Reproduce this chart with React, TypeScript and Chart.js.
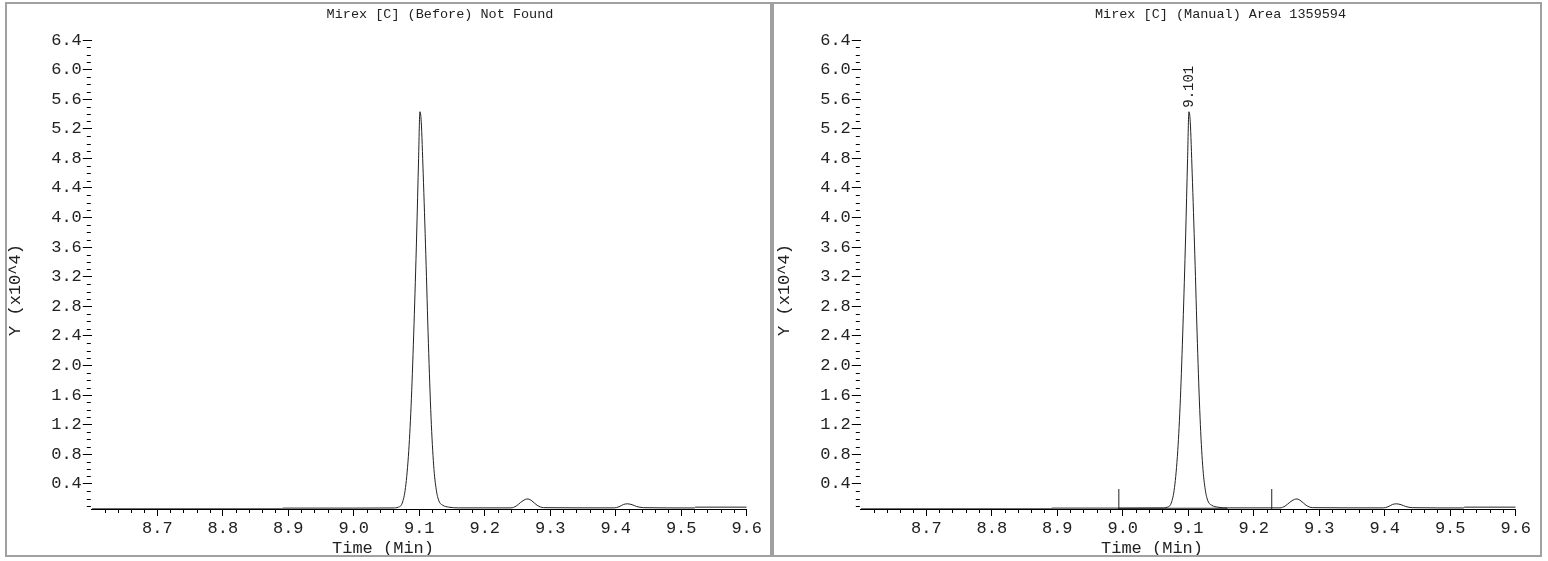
import React, { useEffect, useRef } from "react";
import { Chart, registerables } from "chart.js";

Chart.register(...registerables);

// ---- data (time in minutes, intensity in units of 10^4) ----
const timeMin = [
  8.6, 8.89, 8.892, 9.0, 9.06, 9.068, 9.074, 9.079, 9.084, 9.088, 9.092, 9.096,
  9.099, 9.101, 9.103, 9.106, 9.11, 9.114, 9.118, 9.122, 9.126, 9.13, 9.136,
  9.145, 9.16, 9.24, 9.248, 9.255, 9.262, 9.266, 9.272, 9.28, 9.29, 9.398,
  9.405, 9.412, 9.418, 9.425, 9.432, 9.442, 9.52, 9.522, 9.6,
];
const intensity = [
  0.062, 0.062, 0.072, 0.072, 0.074, 0.085, 0.14, 0.35, 0.85, 1.55, 2.55, 3.75,
  4.8, 5.43, 5.3, 4.6, 3.5, 2.3, 1.3, 0.65, 0.32, 0.17, 0.11, 0.085, 0.075,
  0.075, 0.1, 0.15, 0.19, 0.195, 0.17, 0.11, 0.078, 0.075, 0.09, 0.122, 0.13,
  0.118, 0.094, 0.078, 0.074, 0.085, 0.085,
];

const xMajorTicks = [8.7, 8.8, 8.9, 9.0, 9.1, 9.2, 9.3, 9.4, 9.5, 9.6];
const yMajorTicks = [0.4, 0.8, 1.2, 1.6, 2.0, 2.4, 2.8, 3.2, 3.6, 4.0, 4.4, 4.8, 5.2, 5.6, 6.0, 6.4];
const xRange = [8.6, 9.6];
const yRange = [0.06, 6.4];

const leftTitle = "Mirex [C] (Before) Not Found";
const rightTitle = "Mirex [C] (Manual) Area 1359594";
const xAxisTitle = "Time (Min)";
const yAxisTitle = "Y (x10^4)";

// manual integration markers (right panel)
const markerTimes = [8.994, 9.2275];
const markerLow = 0.06;
const markerHigh = 0.33;
const baselineTimes = [8.994, 9.16];
const baselineValue = 0.07;
const peakTime = 9.101;
const peakValue = 5.43;
const peakLabel = "9.101";

const FONT = "'Liberation Mono', 'DejaVu Sans Mono', monospace";
const CANVAS_W = 763;
const CANVAS_H = 551;

type PanelProps = {
  title: string;
  titleX: number;
  manual: boolean;
  left: number;
};

function Panel({ title, titleX, manual, left }: PanelProps) {
  const ref = useRef<HTMLCanvasElement | null>(null);

  useEffect(() => {
    if (!ref.current) return;
    const trace = timeMin.map((t, i) => ({ x: t, y: intensity[i] }));
    const datasets: any[] = [
      {
        data: trace,
        borderColor: "#222",
        borderWidth: 1,
        pointRadius: 0,
        cubicInterpolationMode: "monotone",
        fill: false,
      },
    ];
    if (manual) {
      markerTimes.forEach((t) => {
        datasets.push({
          data: [
            { x: t, y: markerLow },
            { x: t, y: markerHigh },
          ],
          borderColor: "#222",
          borderWidth: 1,
          pointRadius: 0,
        });
      });
      datasets.push({
        data: baselineTimes.map((t) => ({ x: t, y: baselineValue })),
        borderColor: "#222",
        borderWidth: 1,
        pointRadius: 0,
      });
    }

    const decor = {
      id: "decor",
      afterDraw(chart: any) {
        const ctx = chart.ctx as CanvasRenderingContext2D;
        const xs = chart.scales.x;
        const ys = chart.scales.y;
        const area = chart.chartArea;
        ctx.save();
        ctx.strokeStyle = "#000";
        ctx.lineWidth = 1;
        // minor ticks x
        ctx.beginPath();
        for (let i = 1; i < 50; i++) {
          if (i % 5 === 0) continue;
          const v = xRange[0] + i * 0.02;
          const px = Math.round(xs.getPixelForValue(v)) + 0.5;
          ctx.moveTo(px, area.bottom);
          ctx.lineTo(px, area.bottom + 4);
        }
        // minor ticks y
        for (let i = 1; i < 64; i++) {
          if (i % 4 === 0) continue;
          const v = i * 0.1;
          if (v < yRange[0]) continue;
          const py = Math.round(ys.getPixelForValue(v)) + 0.5;
          ctx.moveTo(area.left - 5, py);
          ctx.lineTo(area.left - 1, py);
        }
        ctx.stroke();

        ctx.fillStyle = "#222";
        // title
        ctx.font = `13.5px ${FONT}`;
        ctx.textAlign = "center";
        ctx.textBaseline = "middle";
        ctx.fillText(title, titleX, 10);
        // x title
        ctx.font = `17px ${FONT}`;
        ctx.fillText(xAxisTitle, 376, 544);
        // y title
        ctx.save();
        ctx.translate(8, 286);
        ctx.rotate(-Math.PI / 2);
        ctx.fillText(yAxisTitle, 0, 0);
        ctx.restore();
        // peak label
        if (manual) {
          const px = xs.getPixelForValue(peakTime);
          const py = ys.getPixelForValue(peakValue);
          ctx.save();
          ctx.font = `14px ${FONT}`;
          ctx.translate(px, py - 4);
          ctx.rotate(-Math.PI / 2);
          ctx.textAlign = "left";
          ctx.textBaseline = "middle";
          ctx.fillText(peakLabel, 0, 0);
          ctx.restore();
        }
        ctx.restore();
      },
    };

    const chart = new Chart(ref.current, {
      type: "line",
      data: { datasets },
      options: {
        animation: false,
        responsive: false,
        devicePixelRatio: 1,
        layout: { padding: { top: 36, right: 23.3, left: 0, bottom: 0 } },
        plugins: {
          legend: { display: false },
          tooltip: { enabled: false },
          title: { display: false },
        },
        elements: { point: { radius: 0 } },
        scales: {
          x: {
            type: "linear",
            min: xRange[0],
            max: xRange[1],
            afterBuildTicks: (s: any) => {
              s.ticks = xMajorTicks.map((v) => ({ value: v }));
            },
            afterFit: (s: any) => {
              s.height = 46;
            },
            ticks: {
              font: { family: FONT, size: 17 },
              color: "#222",
              padding: 2,
              maxRotation: 0,
              autoSkip: false,
              callback: (v: any) => Number(v).toFixed(1),
            },
            grid: {
              display: true,
              drawOnChartArea: false,
              drawTicks: true,
              tickLength: 7,
              tickColor: "#000",
              tickWidth: 1,
            },
            border: { display: true, color: "#000", width: 1 },
          },
          y: {
            type: "linear",
            min: yRange[0],
            max: yRange[1],
            afterBuildTicks: (s: any) => {
              s.ticks = yMajorTicks.map((v) => ({ value: v }));
            },
            afterFit: (s: any) => {
              s.width = 84.8;
            },
            ticks: {
              font: { family: FONT, size: 17 },
              color: "#222",
              padding: 1,
              autoSkip: false,
              callback: (v: any) => Number(v).toFixed(1),
            },
            grid: {
              display: true,
              drawOnChartArea: false,
              drawTicks: true,
              tickLength: 9,
              tickColor: "#000",
              tickWidth: 1,
            },
            border: { display: false },
          },
        },
      },
      plugins: [decor],
    } as any);
    return () => chart.destroy();
  }, [title, titleX, manual]);

  return (
    <canvas
      ref={ref}
      width={CANVAS_W}
      height={CANVAS_H}
      style={{ position: "absolute", left, top: 4, width: CANVAS_W, height: CANVAS_H }}
    />
  );
}

export default function App() {
  const border = "2px solid #a0a0a0";
  return (
    <div
      style={{
        position: "fixed",
        left: 0,
        top: 0,
        width: 1548,
        height: 561,
        background: "#fff",
        overflow: "hidden",
      }}
    >
      <div
        style={{
          position: "absolute",
          left: 5,
          top: 2,
          width: 767,
          height: 555,
          border,
          boxSizing: "border-box",
        }}
      />
      <div
        style={{
          position: "absolute",
          left: 772,
          top: 2,
          width: 770,
          height: 555,
          border,
          boxSizing: "border-box",
        }}
      />
      <Panel title={leftTitle} titleX={433} manual={false} left={7} />
      <Panel title={rightTitle} titleX={444.5} manual={true} left={776} />
    </div>
  );
}
